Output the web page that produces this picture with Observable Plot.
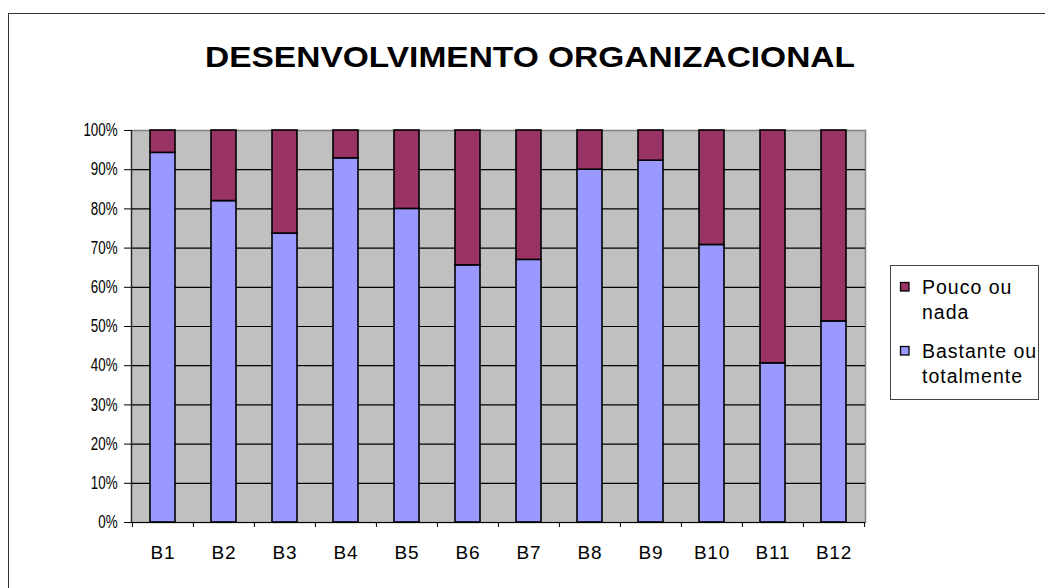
<!DOCTYPE html>
<html>
<head>
<meta charset="utf-8">
<script src="https://cdn.jsdelivr.net/npm/d3@7"></script>
<script src="https://cdn.jsdelivr.net/npm/@observablehq/plot@0.6"></script>
<style>
  html, body { margin: 0; padding: 0; background: #fff; }
  #wrap { position: relative; width: 1045px; height: 588px; overflow: hidden; font-family: "Liberation Sans", Arial, sans-serif; }
  #border { position: absolute; left: 8px; top: 13px; width: 1100px; height: 700px; border-left: 1.5px solid #333; border-top: 1.5px solid #333; }
  #chart { position: absolute; left: 0; top: 0; }
  #title { position: absolute; left: 0; top: 0; }
  #legend { position: absolute; left: 890px; top: 265px; width: 147px; height: 133px; border: 1px solid #444; background: #fff; overflow: hidden; }
</style>
</head>
<body>
<div id="wrap">
  <div id="border"></div>
  <div id="chart"></div>
  <svg id="title" width="1045" height="100"></svg>
  <div id="legend"></div>
</div>
<script>
const titleText = "DESENVOLVIMENTO ORGANIZACIONAL";
const categories = ["B1","B2","B3","B4","B5","B6","B7","B8","B9","B10","B11","B12"];
const seriesNames = ["Pouco ou nada", "Bastante ou totalmente"];
const seriesColors = ["#993366", "#9999FF"];
const bastante = [94.3, 82.0, 73.7, 92.9, 80.0, 65.6, 67.0, 90.0, 92.3, 70.8, 40.6, 51.3];
const pouco    = [5.7, 18.0, 26.3, 7.1, 20.0, 34.4, 33.0, 10.0, 7.7, 29.2, 59.4, 48.7];
const yTicks = [0, 10, 20, 30, 40, 50, 60, 70, 80, 90, 100];

// Long table: bottom series first (stacked in input order)
const rows = [];
categories.forEach((c, i) => rows.push({cat: c, series: seriesNames[1], value: bastante[i]}));
categories.forEach((c, i) => rows.push({cat: c, series: seriesNames[0], value: pouco[i]}));

const W = 880, H = 575;
const mL = 131, mR = W - 865, mT = 130, mB = H - 522;
const halfBand = (W - mL - mR) / categories.length / 2;
const FONT = '"Liberation Sans", Arial, sans-serif';

const plot = Plot.plot({
  width: W, height: H,
  marginLeft: mL, marginRight: mR, marginTop: mT, marginBottom: mB,
  style: { fontFamily: FONT, fontSize: "18px", color: "#000", background: "transparent" },
  x: { domain: categories, paddingInner: 0.59, paddingOuter: 0.295, label: null },
  y: { domain: [0, 100], label: null },
  color: { domain: seriesNames, range: seriesColors },
  marks: [
    Plot.frame({ fill: "#C0C0C0", stroke: "#808080", strokeWidth: 1.5 }),
    Plot.ruleY(yTicks.filter(d => d > 0 && d < 100), { stroke: "#000", strokeWidth: 1.2 }),
    Plot.barY(rows, Plot.stackY({ x: "cat", y: "value", fill: "series", stroke: "#000", strokeWidth: 1.6 })),
    Plot.ruleY([0], { stroke: "#000", strokeWidth: 1.2 }),
    Plot.frame({ anchor: "left", stroke: "#222", strokeWidth: 1.2 }),
    Plot.axisY({ ticks: yTicks, tickSize: 7, tickPadding: 7, tickFormat: d => d + "%", fontSize: 18, stroke: "#000" }),
    Plot.axisX({ tickSize: 0, tickPadding: 23, fontSize: 19 }),
    Plot.axisX({ tickSize: 5, tickFormat: () => "", dx: -halfBand }),
    Plot.axisX({ ticks: [categories[categories.length - 1]], tickSize: 5, tickFormat: () => "", dx: halfBand })
  ]
});
document.getElementById("chart").appendChild(plot);

// Condense y tick labels (reference uses a narrow rendering)
d3.select(plot).selectAll("text").each(function () {
  const t = this.textContent;
  if (t.endsWith("%")) {
    const w = this.getComputedTextLength();
    d3.select(this).attr("textLength", w * 0.74).attr("lengthAdjust", "spacingAndGlyphs");
  } else if (/^B\d+$/.test(t)) {
    d3.select(this).style("letter-spacing", "0.8px");
  }
});

// Title
const tsvg = d3.select("#title");
tsvg.append("text")
  .attr("x", 530).attr("y", 67)
  .attr("text-anchor", "middle")
  .attr("font-family", FONT)
  .attr("font-weight", "bold")
  .attr("font-size", 30)
  .attr("textLength", 650)
  .attr("lengthAdjust", "spacingAndGlyphs")
  .text(titleText);

// Legend (top series first, as in reference)
const leg = d3.select("#legend").append("svg").attr("width", 147).attr("height", 133);
const legendItems = seriesNames.map((n, i) => ({ name: n, color: seriesColors[i] }));
legendItems.forEach((it, i) => {
  const y0 = 16 + i * 64;
  leg.append("rect").attr("x", 9.5).attr("y", y0 + 0.5).attr("width", 8.5).attr("height", 8.5)
    .attr("fill", it.color).attr("stroke", "#000").attr("stroke-width", 1.3);
  const k = it.name.lastIndexOf(" ");
  const lines = [it.name.slice(0, k), it.name.slice(k + 1)];
  lines.forEach((ln, j) => {
    leg.append("text").attr("x", 31).attr("y", y0 + 12 + j * 24.5)
      .attr("font-family", FONT)
      .attr("font-size", 19.5).attr("letter-spacing", "1px").attr("fill", "#000").text(ln);
  });
});
</script>
</body>
</html>
